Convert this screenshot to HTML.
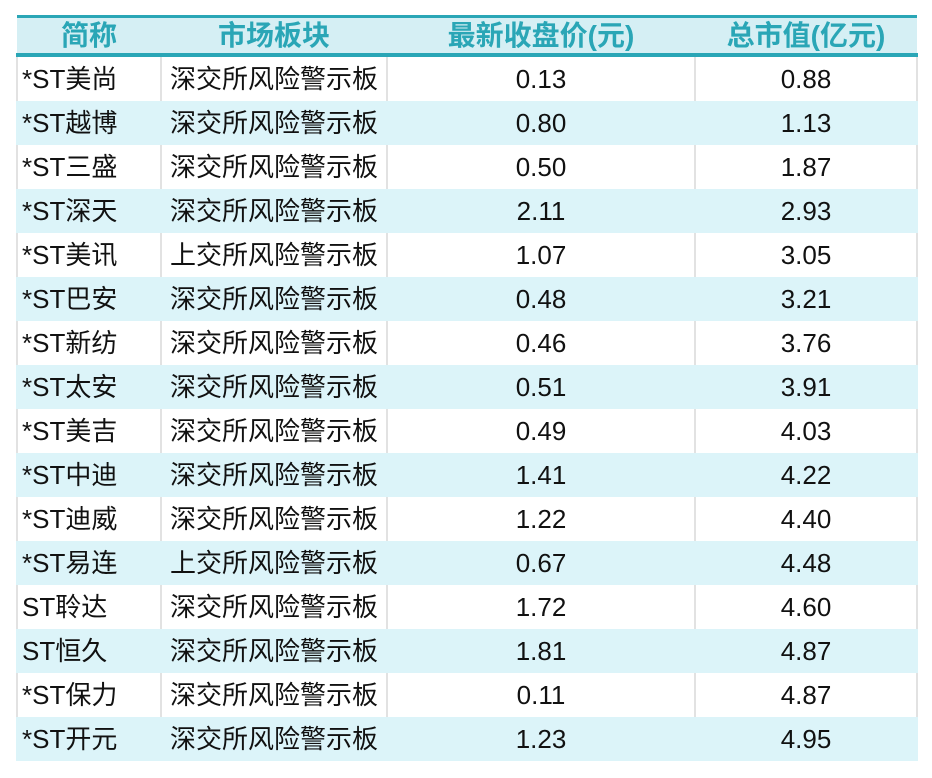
<!DOCTYPE html>
<html><head><meta charset="utf-8"><style>
body{margin:0;background:#fff;width:932px;height:778px;overflow:hidden;font-family:"Liberation Sans","Noto Sans CJK SC",sans-serif;}
table{position:absolute;left:16px;top:15px;width:900px;border-collapse:collapse;table-layout:fixed;}
th{height:35px;background:#d5eff4;color:#2aa6b6;font-size:28px;font-weight:bold;border-top:3px solid #2aa6b6;border-bottom:4px solid #2aa6b6;padding:0;line-height:35px;}
td{height:44px;padding:0;font-size:26px;color:#111;border-left:2px solid #e2e2e2;line-height:44px;}
td:last-child{border-right:2px solid #e2e2e2;}
tr.b td{background:#dcf4f9;border-left-color:#dcf4f9;border-right-color:#dcf4f9;}
td.c{text-align:center}
td.l1{padding-left:4px}
td.l2{padding-left:8px}
</style></head><body>
<table>
<colgroup><col style="width:144px"><col style="width:226px"><col style="width:308px"><col style="width:222px"></colgroup>
<tr><th>简称</th><th>市场板块</th><th>最新收盘价(元)</th><th>总市值(亿元)</th></tr>
<tr><td class="l1">*ST美尚</td><td class="l2">深交所风险警示板</td><td class="c">0.13</td><td class="c">0.88</td></tr>
<tr class="b"><td class="l1">*ST越博</td><td class="l2">深交所风险警示板</td><td class="c">0.80</td><td class="c">1.13</td></tr>
<tr><td class="l1">*ST三盛</td><td class="l2">深交所风险警示板</td><td class="c">0.50</td><td class="c">1.87</td></tr>
<tr class="b"><td class="l1">*ST深天</td><td class="l2">深交所风险警示板</td><td class="c">2.11</td><td class="c">2.93</td></tr>
<tr><td class="l1">*ST美讯</td><td class="l2">上交所风险警示板</td><td class="c">1.07</td><td class="c">3.05</td></tr>
<tr class="b"><td class="l1">*ST巴安</td><td class="l2">深交所风险警示板</td><td class="c">0.48</td><td class="c">3.21</td></tr>
<tr><td class="l1">*ST新纺</td><td class="l2">深交所风险警示板</td><td class="c">0.46</td><td class="c">3.76</td></tr>
<tr class="b"><td class="l1">*ST太安</td><td class="l2">深交所风险警示板</td><td class="c">0.51</td><td class="c">3.91</td></tr>
<tr><td class="l1">*ST美吉</td><td class="l2">深交所风险警示板</td><td class="c">0.49</td><td class="c">4.03</td></tr>
<tr class="b"><td class="l1">*ST中迪</td><td class="l2">深交所风险警示板</td><td class="c">1.41</td><td class="c">4.22</td></tr>
<tr><td class="l1">*ST迪威</td><td class="l2">深交所风险警示板</td><td class="c">1.22</td><td class="c">4.40</td></tr>
<tr class="b"><td class="l1">*ST易连</td><td class="l2">上交所风险警示板</td><td class="c">0.67</td><td class="c">4.48</td></tr>
<tr><td class="l1">ST聆达</td><td class="l2">深交所风险警示板</td><td class="c">1.72</td><td class="c">4.60</td></tr>
<tr class="b"><td class="l1">ST恒久</td><td class="l2">深交所风险警示板</td><td class="c">1.81</td><td class="c">4.87</td></tr>
<tr><td class="l1">*ST保力</td><td class="l2">深交所风险警示板</td><td class="c">0.11</td><td class="c">4.87</td></tr>
<tr class="b"><td class="l1">*ST开元</td><td class="l2">深交所风险警示板</td><td class="c">1.23</td><td class="c">4.95</td></tr>
</table>
</body></html>
